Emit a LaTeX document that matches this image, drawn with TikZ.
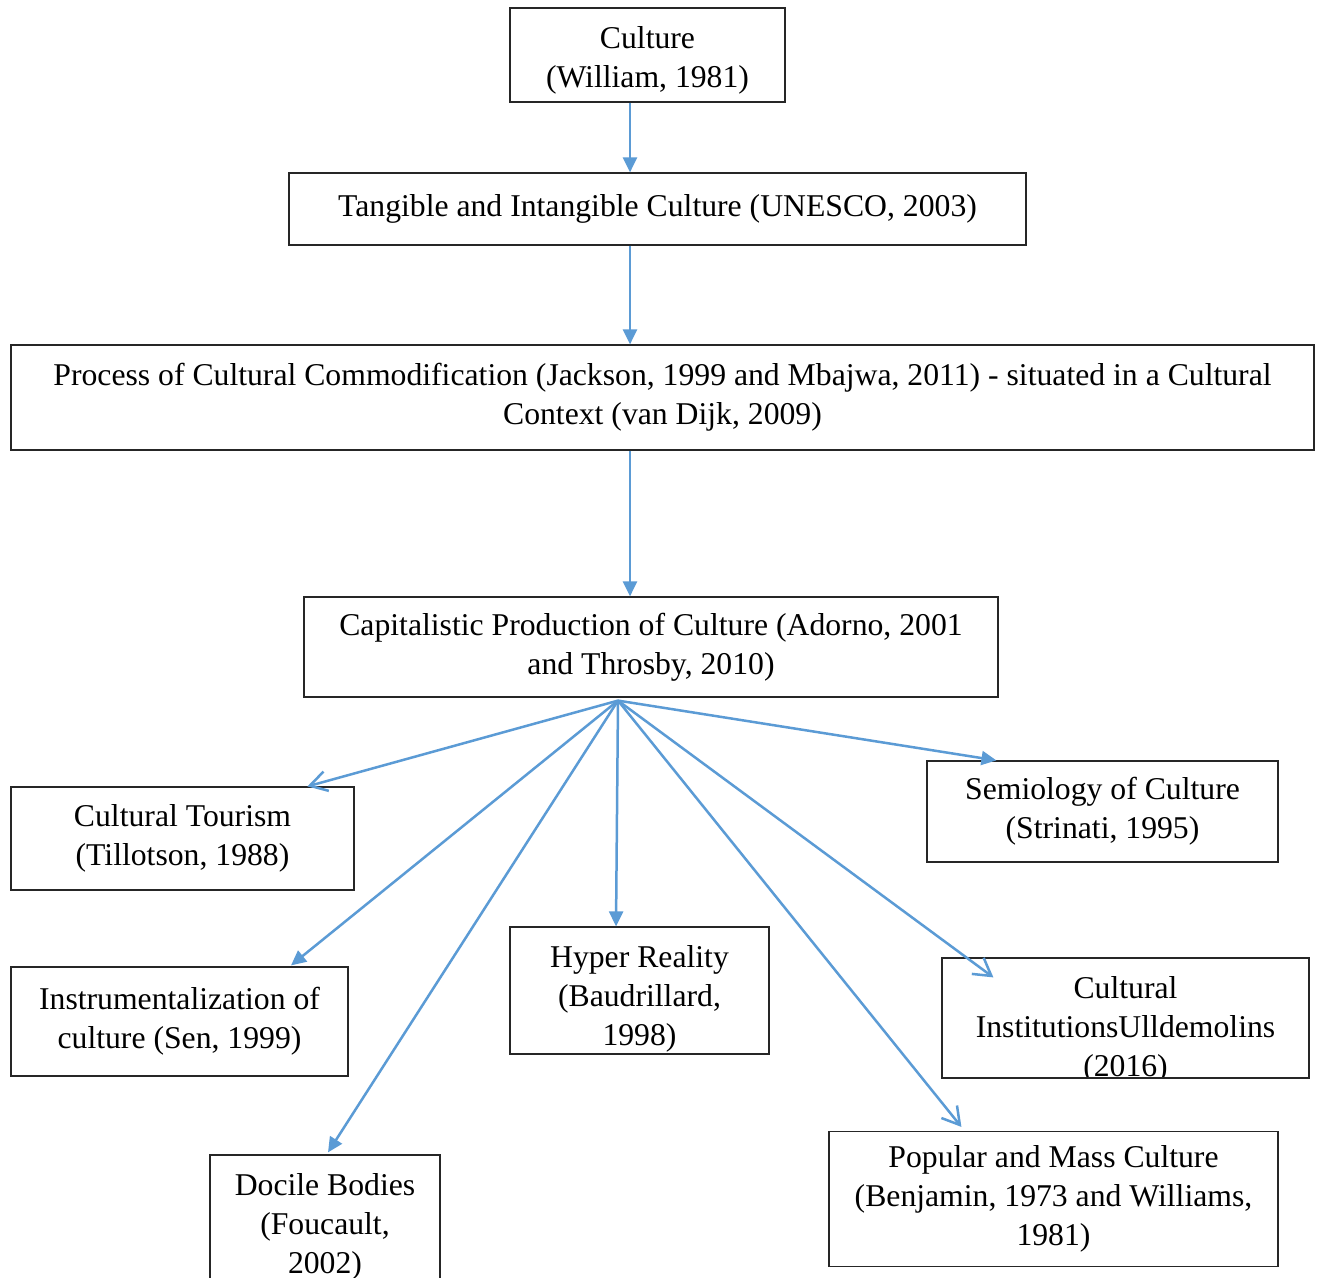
\documentclass[tikz,border=0pt]{standalone}
\usepackage{fontspec}
\setmainfont{Liberation Serif}
\usetikzlibrary{arrows.meta}
\definecolor{arrowblue}{HTML}{5B9BD5}
\begin{document}
\begin{tikzpicture}[x=1pt,y=-1pt,
  box/.style={draw=black!85, line width=1.2pt, inner sep=0pt, align=center,
    font=\fontsize{31.7}{39}\selectfont},
  txt/.style={inner sep=0pt, align=center, font=\fontsize{31.7}{39}\selectfont},
  arr/.style={draw=arrowblue, line width=2.5pt, -{Triangle[length=15pt,width=14pt]}},
  barb/.style={draw=arrowblue, line width=2.5pt, -{Straight Barb[length=17pt,width=20pt]}}]
\useasboundingbox (0,0) rectangle (1317,1277);
\fill[white] (0,0) rectangle (1317,1277);

\node[box, minimum width=275pt, minimum height=94pt,
  path picture={\node[txt] at ([yshift=-5pt]path picture bounding box.center) {Culture\\(William, 1981)};}] (culture) at (647.5,55) {};
\node[box, minimum width=737pt, minimum height=72pt] (tang) at (657.5,209) {Tangible and Intangible Culture (UNESCO, 2003)};
\node[box, minimum width=1303pt, minimum height=105pt] (proc) at (662.5,397.5) {Process of Cultural Commodification (Jackson, 1999 and Mbajwa, 2011) - situated in a Cultural\\Context (van Dijk, 2009)};
\node[box, minimum width=694pt, minimum height=100pt] (cap) at (651,647) {Capitalistic Production of Culture (Adorno, 2001\\and Throsby, 2010)};
\node[box, minimum width=343pt, minimum height=103pt] (tour) at (182.5,838.5) {Cultural Tourism\\(Tillotson, 1988)};
\node[box, minimum width=351pt, minimum height=101pt] (semi) at (1102.5,811.5) {Semiology of Culture\\(Strinati, 1995)};
\node[box, minimum width=337pt, minimum height=109pt] (instr) at (179.5,1021.5) {Instrumentalization of\\culture (Sen, 1999)};
\node[box, minimum width=259pt, minimum height=127pt,
  path picture={\node[txt] at ([yshift=-8pt]path picture bounding box.center) {Hyper Reality\\(Baudrillard,\\1998)};}] (hyper) at (639.5,990.5) {};
\node[box, minimum width=367pt, minimum height=120pt,
  path picture={\node[txt] at ([yshift=-12pt]path picture bounding box.center) {Cultural\\InstitutionsUlldemolins\\(2016)};}] (inst) at (1125.5,1018) {};
\node[box, minimum width=449pt, minimum height=135pt] (pop) at (1053.5,1199) {Popular and Mass Culture\\(Benjamin, 1973 and Williams,\\1981)};
\node[box, minimum width=230pt, minimum height=140pt,
  path picture={\node[txt] at ([yshift=-2pt]path picture bounding box.center) {Docile Bodies\\(Foucault,\\2002)};}] (doc) at (325,1225) {};

\coordinate (hub) at ([xshift=-33pt,yshift=-3pt]cap.south);

\draw[arr] ([xshift=-17.5pt]culture.south) -- ([xshift=-27.5pt]tang.north);
\draw[arr] ([xshift=-27.5pt]tang.south) -- ([xshift=-32.5pt]proc.north);
\draw[arr] ([xshift=-32.5pt]proc.south) -- ([xshift=-21pt]cap.north);

\draw[barb] (hub) -- ([xshift=297pt]tour.north west);
\draw[arr] (hub) -- ([xshift=70pt]semi.north west);
\draw[arr] (hub) -- ([xshift=111.5pt,yshift=1pt]instr.north);
\draw[arr] (hub) -- ([xshift=-23.5pt]hyper.north);
\draw[arr] (hub) -- ([xshift=3pt,yshift=2pt]doc.north);
\draw[barb] (hub) -- ([xshift=52pt,yshift=-20pt]inst.north west);
\draw[barb] (hub) -- ([xshift=133pt,yshift=4pt]pop.north west);
\end{tikzpicture}
\end{document}
